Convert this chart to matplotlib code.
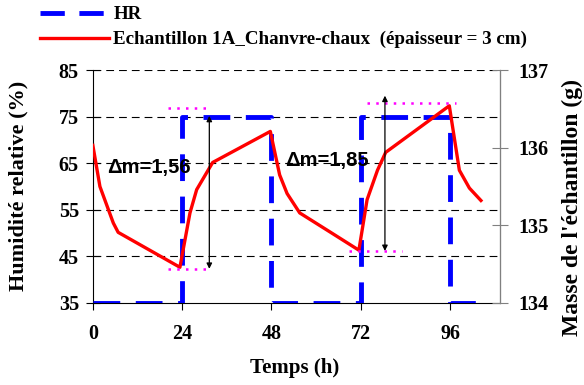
import matplotlib
matplotlib.use('Agg')
from matplotlib import pyplot as plt
from matplotlib.lines import Line2D

# HR setpoint (left axis)
hr_time = [0, 24, 24, 48, 48, 72, 72, 96, 96, 104]
hr_value = [35, 35, 75, 75, 35, 35, 75, 75, 35, 35]

# sample mass (right axis)
mass_time = [0, 1.9, 5.5, 6.8, 23.4, 26.1, 27.9, 32.2, 47.7, 50.2, 52.2, 55.6, 63.9,
             71.5, 73.7, 76.5, 78.7, 95.8, 98.5, 101.2, 104.3]
mass_value = [136.03, 135.50, 135.03, 134.91, 134.46, 135.16, 135.46, 135.81, 136.21,
              135.65, 135.41, 135.16, 134.91, 134.68, 135.33, 135.71, 135.94, 136.54,
              135.71, 135.48, 135.32]

# delta m annotations: label, arrow x, arrow bottom/top (mass), dotted ranges
dm_labels = ['\u0394m=1,56', '\u0394m=1,85']
dm_text_pos = [(3.8, 135.74), (51.6, 135.83)]
dm_arrow_x = [31.3, 78.5]
dm_arrow_y = [(134.44, 136.41), (134.67, 136.67)]
dm_top_x = [(20.2, 31.5), (73.7, 97.5)]
dm_top_y = [136.51, 136.58]
dm_bot_x = [(20.2, 31.5), (68.8, 83.2)]
dm_bot_y = [134.44, 134.67]

xticks = [0, 24, 48, 72, 96]

serif = 'Liberation Serif'
sans = 'Liberation Sans'

fig = plt.figure(figsize=(5.84, 3.85), dpi=100)
ax = fig.add_axes([0.159, 0.213, 0.697, 0.605])
ax2 = ax.twinx()

ax.set_xlim(0, 109.4)
ax.set_ylim(35, 85)
ax2.set_ylim(134, 137)

for y in [45, 55, 65, 75, 85]:
    ax.axhline(y, color='black', lw=0.8, ls=(0, (7, 4.5)), zorder=1)

hr_line, = ax.plot(hr_time, hr_value, color='#0000ff', lw=3.5, ls=(0, (5.5, 3.2)), zorder=3)
mass_line, = ax2.plot(mass_time, mass_value, color='#ff0000', lw=2.4, zorder=4)

for i in range(2):
    ax2.plot(dm_top_x[i], [dm_top_y[i]] * 2, color='#ff00ff', lw=1.8, ls=(0, (1, 2.5)), zorder=5)
    ax2.plot(dm_bot_x[i], [dm_bot_y[i]] * 2, color='#ff00ff', lw=1.8, ls=(0, (1, 2.5)), zorder=5)
    ax2.annotate('', xy=(dm_arrow_x[i], dm_arrow_y[i][0]), xytext=(dm_arrow_x[i], dm_arrow_y[i][1]),
                 arrowprops=dict(arrowstyle='<|-|>', color='black', lw=0.9,
                                 mutation_scale=8, shrinkA=0, shrinkB=0), zorder=6)
    ax2.text(dm_text_pos[i][0], dm_text_pos[i][1], dm_labels[i], fontfamily=sans,
             fontweight='bold', fontsize=14.5, va='center', ha='left', zorder=7)

ax.spines['top'].set_visible(False)
ax2.spines['top'].set_visible(False)
ax2.spines['right'].set_color('#808080')
ax2.spines['left'].set_visible(False)
ax2.spines['bottom'].set_visible(False)

ax.set_xticks(xticks)
ax.set_yticks([35, 45, 55, 65, 75, 85])
ax2.set_yticks([134, 135, 136, 137])
ax.tick_params(axis='x', direction='out', length=5, pad=10)
ax.tick_params(axis='y', direction='inout', length=10, pad=5)
ax2.tick_params(axis='y', direction='inout', length=11, pad=8, color='#808080')

for lab in ax.get_xticklabels() + ax.get_yticklabels() + ax2.get_yticklabels():
    lab.set_fontfamily(serif)
    lab.set_fontweight('bold')
    lab.set_fontsize(14.5)

lbl = dict(fontfamily=serif, fontweight='bold')
fig.text(295 / 584, 1 - 368 / 385, 'Temps (h)', ha='center', va='center', fontsize=15, **lbl)
fig.text(18 / 584, 1 - 186 / 385, 'Humidité relative (%)', rotation=90,
         ha='center', va='center', fontsize=16, **lbl)
fig.text(572 / 584, 1 - 208 / 385, "Masse de l'échantillon (g)", rotation=90,
         ha='center', va='center', fontsize=17, **lbl)

handles = [Line2D([], [], color='#0000ff', lw=3.5, ls=(0, (5, 3))),
           Line2D([], [], color='#ff0000', lw=2.4)]
fig.legend(handles, ['HR', 'Echantillon 1A_Chanvre-chaux  (épaisseur = 3 cm)'],
           loc='upper left', bbox_to_anchor=(40 / 584, 1 - 6 / 385), frameon=False,
           prop={'family': serif, 'weight': 'bold', 'size': 13.7},
           handlelength=3.6, handletextpad=0.26, labelspacing=0.4, borderpad=0,
           borderaxespad=0)

fig.savefig('out.png', dpi=100)
